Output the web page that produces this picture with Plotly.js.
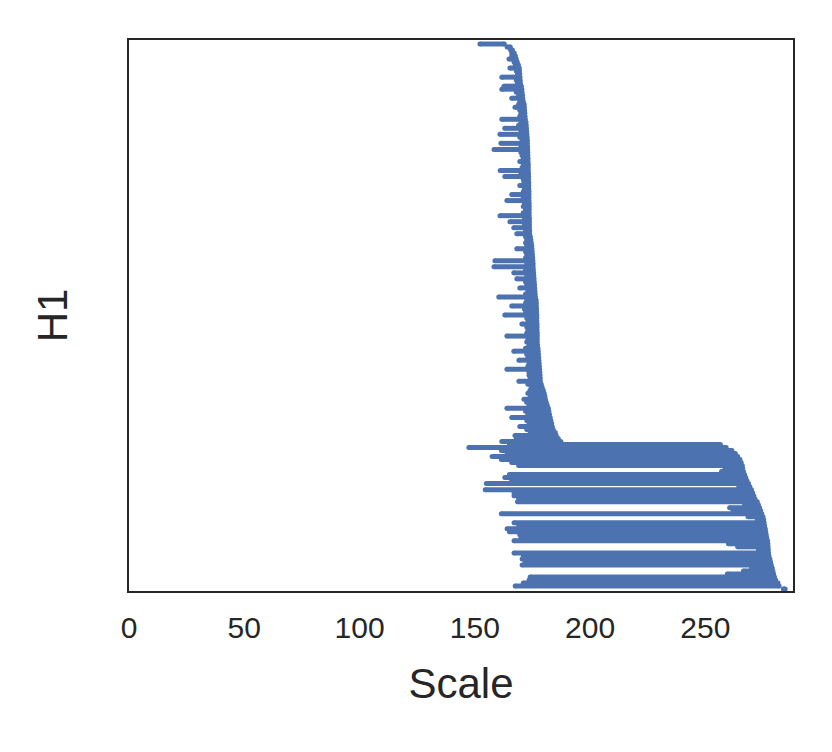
<!DOCTYPE html>
<html>
<head>
<meta charset="utf-8">
<script src="https://cdn.plot.ly/plotly-3.0.1.min.js"></script>
<style>html,body{margin:0;padding:0;background:#fff;}#chart{width:832px;height:752px;}</style>
</head>
<body>
<div id="chart"></div>
<script>
// H1 persistence barcode: one bar per feature, [birth, death], ordered by death (top to bottom)
const births = [
152.2,164,165.5,166,166,164.8,167,167.5,165.2,168,
168.5,161.7,168,168.5,162.6,161.7,168,169,166,169.5,
169,167.4,169.5,170,169.5,161.7,170,169,163,170,
160.9,169.5,170.5,161.3,170,158.3,170,170.5,171,169.5,
171,170.5,161,170,163,171,171.3,169.5,171.5,171,
166,171,163.9,171.5,171,172,171,160.9,171.5,165.2,
171.5,166.9,172,168.2,172,172.5,172,172.5,168.2,172,
172.5,172,158.7,172.5,158.3,172,166.9,172.5,168.2,172,
172.5,169.5,173,172,160.4,172.5,172,166,171.5,172,
163,172.5,173,170.4,172.5,173,172.5,163.9,173,172.5,
173.5,172,166.9,172.5,173,169.1,173.5,173,163.9,173.5,
173.5,174,169.1,173,174.5,173.9,173,174,171.3,172.5,
173.5,163.9,172,173,166,172.5,173.5,169.5,172.5,174,
167.4,168,161.7,
165,147.4,161.5,164,157.5,161.5,166,169,258.5,257,
165,163,166,155,264.5,154.5,167,167,169,168.5,
267,260.5,262,161.5,268.5,272.5,167,169,164,165,
169.5,170,167,260,264,273,167,171,170.5,172,
170.5,270,266.5,259.5,174,173.5,171,167.5,283.8
];
const deaths = [
162.8,165.4,166.3,167.1,167.6,168,168.4,168.9,169.3,169.4,
169.5,169.6,169.7,169.8,170.2,170.4,170.5,170.7,170.8,171,
171.4,171.5,171.6,171.7,171.8,171.9,172.2,172.3,172.4,172.5,
172.6,172.7,172.8,172.8,172.9,172.9,173,173,173.1,173.1,
173.2,173.2,173.2,173.3,173.3,173.3,173.4,173.4,173.4,173.5,
173.5,173.5,173.5,173.6,173.6,173.6,173.6,173.6,173.7,173.7,
173.7,173.7,173.8,173.8,174.1,174.3,174.5,174.7,174.8,174.9,
175,175.1,175.2,175.3,175.3,175.4,175.5,175.6,175.7,175.8,
175.9,176,176.1,176.2,176.3,176.6,176.7,176.7,176.8,176.8,
176.9,176.9,176.9,177,177,177,177.1,177.1,177.1,177.1,
177.2,177.4,177.5,177.6,177.7,177.8,177.9,178,178.1,178.2,
178.3,178.4,178.4,178.8,179.2,179.7,180.1,180.4,180.6,181,
181.4,181.9,182.1,182.4,182.7,183,183.3,183.6,184,184.9,
185.3,186.2,187.3,
256.5,259,261.5,263,264,265,265.5,266,266.2,266.5,
267,267.5,268,268.7,269.3,270,270.5,271,271.5,272.5,
273,273.5,274,274.5,275,275.3,275.5,275.7,276,276.2,
276.4,276.6,277,277.1,277.2,277.3,277.4,277.6,278,278.3,
278.6,279,279.3,279.6,280,280.5,281.5,282,284.6
];
const xTickVals = [0, 50, 100, 150, 200, 250];
const xTickText = ['0', '50', '100', '150', '200', '250'];
const barColor = '#4c72b0';

const xs = [], ys = [];
births.forEach((b, i) => {
  xs.push(b, deaths[i], null);
  ys.push(i, i, null);
});
const n = births.length;

const trace = {
  type: 'scatter',
  mode: 'lines+markers',
  x: xs, y: ys,
  line: {color: barColor, width: 5},
  marker: {color: barColor, size: 5, line: {width: 0}},
  hoverinfo: 'skip',
  showlegend: false
};

const axisFont = {family: '"Liberation Sans", Arial, sans-serif', size: 30, color: '#262626'};
const layout = {
  width: 832, height: 752,
  margin: {l: 129, r: 39, t: 40, b: 161},
  paper_bgcolor: '#ffffff', plot_bgcolor: '#ffffff',
  font: {family: '"Liberation Sans", Arial, sans-serif', color: '#262626'},
  xaxis: {
    range: [0, 288],
    tickvals: xTickVals, ticktext: xTickText,
    ticks: 'outside', ticklen: 9, tickcolor: 'rgba(0,0,0,0)',
    tickfont: axisFont,
    showgrid: false, zeroline: false,
    showline: true, mirror: true, linecolor: '#262626', linewidth: 2,
    title: {text: 'Scale', font: {family: '"Liberation Sans", Arial, sans-serif', size: 42, color: '#262626'}, standoff: 26}
  },
  yaxis: {
    range: [n - 1 + 0.66, -1.33],
    showticklabels: false, ticks: '',
    showgrid: false, zeroline: false,
    showline: true, mirror: true, linecolor: '#262626', linewidth: 2,
    title: {text: 'H1', font: {family: '"Liberation Sans", Arial, sans-serif', size: 42, color: '#262626'}, standoff: 46}
  }
};

Plotly.newPlot('chart', [trace], layout, {displayModeBar: false, staticPlot: true});
</script>
</body>
</html>
